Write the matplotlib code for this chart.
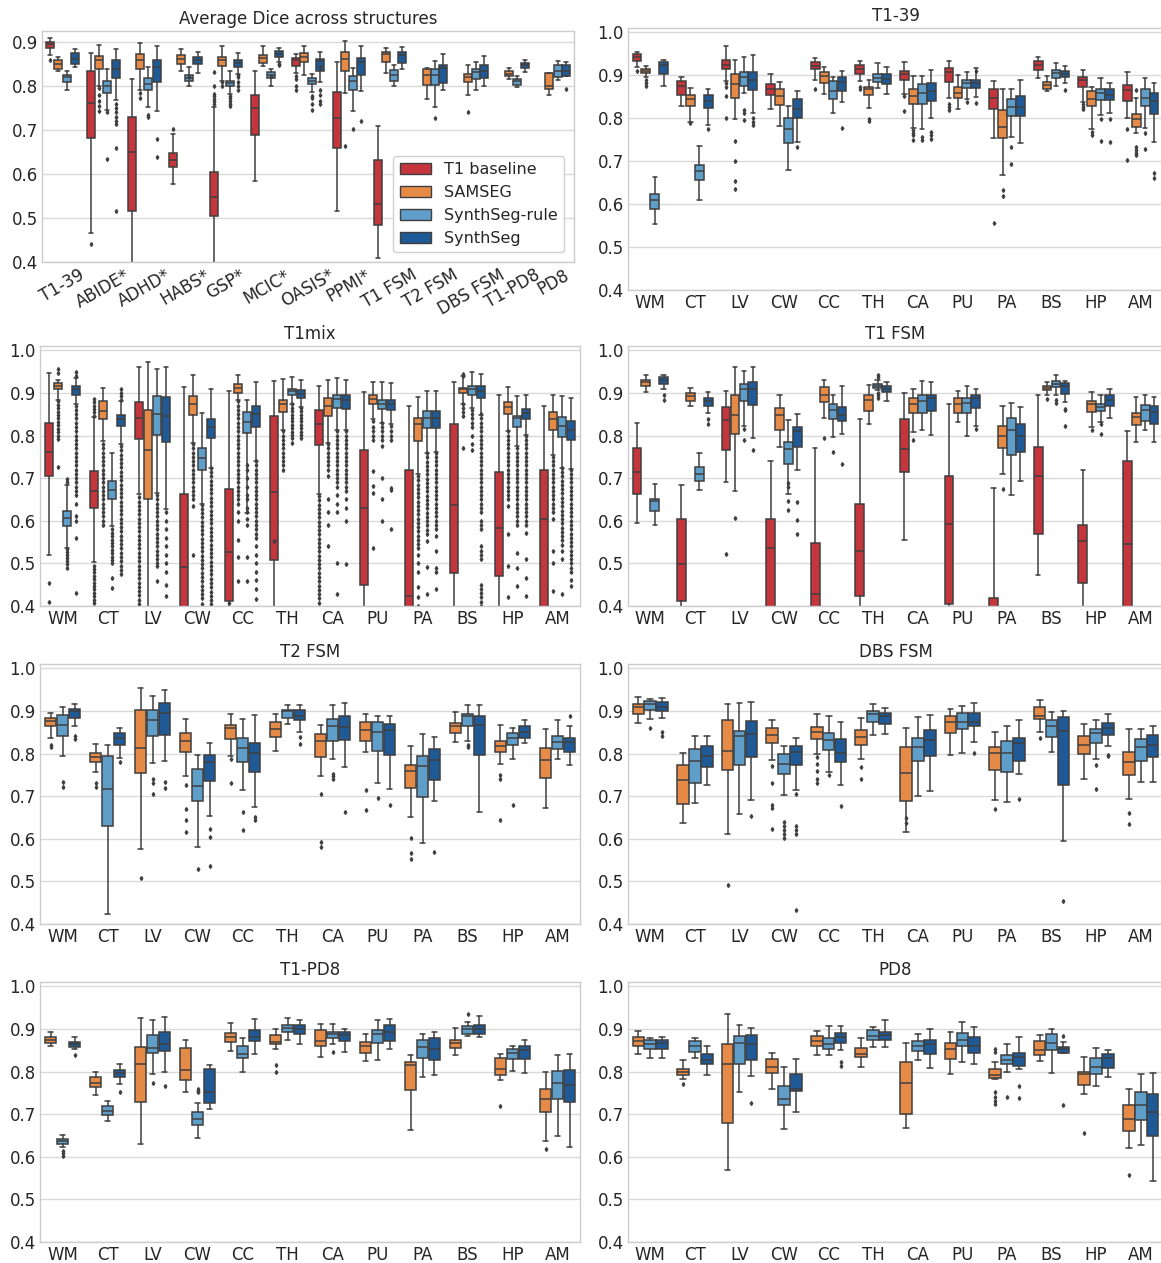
import matplotlib
matplotlib.use("Agg")
import matplotlib.pyplot as plt
from matplotlib.patches import Patch

plt.style.use('seaborn-v0_8-whitegrid')
plt.rcParams["font.family"] = ["DejaVu Sans"]

# ---------------------------------------------------------
# Categories, methods, colours
# ---------------------------------------------------------
datasets = ['T1-39', 'ABIDE*', 'ADHD*', 'HABS*', 'GSP*', 'MCIC*', 'OASIS*',
            'PPMI*', 'T1 FSM', 'T2 FSM', 'DBS FSM', 'T1-PD8', 'PD8']
structs = ['WM', 'CT', 'LV', 'CW', 'CC', 'TH', 'CA', 'PU', 'PA', 'BS', 'HP', 'AM']
methods = ['T1 baseline', 'SAMSEG', 'SynthSeg-rule', 'SynthSeg']
colors = ['#c4363c', '#e68a48', '#5e9ec9', '#1f5996']
edge = '#3f3f3f'

# box stats per entry: (whisker_low, q1, median, q3, whisker_high)
# fliers keyed by (method index, category index)

# ---- Average Dice across structures ----
avg_t1base = [(0.870, 0.887, 0.895, 0.901, 0.908), (0.466, 0.681, 0.761, 0.833, 0.875),
              (0.300, 0.517, 0.649, 0.730, 0.816), (0.578, 0.616, 0.631, 0.647, 0.692),
              (0.300, 0.504, 0.548, 0.605, 0.752), (0.584, 0.688, 0.750, 0.780, 0.834),
              (0.829, 0.845, 0.858, 0.863, 0.873), (0.516, 0.660, 0.727, 0.786, 0.854),
              (0.408, 0.483, 0.531, 0.631, 0.710), None, None, None, None]
avg_samseg = [(0.834, 0.839, 0.850, 0.858, 0.866), (0.801, 0.839, 0.858, 0.868, 0.894),
              (0.791, 0.839, 0.860, 0.873, 0.898), (0.833, 0.851, 0.862, 0.871, 0.883),
              (0.812, 0.845, 0.860, 0.866, 0.891), (0.845, 0.852, 0.863, 0.871, 0.891),
              (0.824, 0.854, 0.867, 0.876, 0.891), (0.784, 0.835, 0.862, 0.877, 0.902),
              (0.829, 0.854, 0.873, 0.877, 0.886), (0.771, 0.803, 0.824, 0.839, 0.841),
              (0.780, 0.809, 0.820, 0.828, 0.848), (0.815, 0.822, 0.828, 0.833, 0.841),
              (0.780, 0.793, 0.801, 0.829, 0.829)]
avg_rule = [(0.791, 0.810, 0.820, 0.826, 0.835), (0.745, 0.784, 0.799, 0.812, 0.839),
            (0.753, 0.791, 0.805, 0.819, 0.844), (0.799, 0.812, 0.819, 0.824, 0.843),
            (0.782, 0.799, 0.806, 0.812, 0.833), (0.801, 0.818, 0.825, 0.832, 0.839),
            (0.786, 0.805, 0.812, 0.819, 0.828), (0.744, 0.791, 0.812, 0.822, 0.841),
            (0.800, 0.812, 0.826, 0.837, 0.847), (0.753, 0.803, 0.824, 0.839, 0.857),
            (0.790, 0.816, 0.832, 0.839, 0.854), (0.797, 0.803, 0.811, 0.816, 0.823),
            (0.814, 0.820, 0.833, 0.847, 0.856)]
avg_synth = [(0.843, 0.851, 0.862, 0.876, 0.885), (0.768, 0.819, 0.839, 0.858, 0.883),
             (0.744, 0.809, 0.843, 0.860, 0.892), (0.830, 0.849, 0.858, 0.866, 0.877),
             (0.828, 0.844, 0.853, 0.860, 0.876), (0.854, 0.866, 0.873, 0.879, 0.886),
             (0.809, 0.835, 0.856, 0.862, 0.877), (0.788, 0.824, 0.854, 0.863, 0.891),
             (0.839, 0.853, 0.870, 0.877, 0.889), (0.791, 0.806, 0.841, 0.848, 0.873),
             (0.801, 0.819, 0.833, 0.848, 0.868), (0.832, 0.841, 0.848, 0.853, 0.858),
             (0.822, 0.822, 0.835, 0.847, 0.854)]
avg_fliers = {
    (0, 0): [0.858], (0, 1): [0.442], (1, 1): [0.795, 0.78, 0.767, 0.755, 0.744],
    (2, 1): [0.74, 0.634], (3, 1): [0.759, 0.75, 0.74, 0.73, 0.72, 0.714, 0.66, 0.517],
    (1, 2): [0.784, 0.772], (2, 2): [0.733, 0.729], (3, 2): [0.679, 0.639],
    (0, 3): [0.702], (2, 3): [0.82],
    (0, 4): [0.832, 0.80, 0.782, 0.778, 0.77, 0.765, 0.76], (1, 4): [0.808, 0.80],
    (2, 4): [0.778, 0.772, 0.765, 0.76, 0.755], (3, 4): [0.826, 0.82, 0.81, 0.80, 0.79],
    (2, 5): [0.823], (3, 5): [0.85, 0.847],
    (0, 6): [0.822, 0.815, 0.80, 0.791], (2, 6): [0.778, 0.772, 0.76, 0.745],
    (3, 6): [0.843, 0.79, 0.78, 0.765, 0.76],
    (1, 7): [0.664], (2, 7): [0.702], (3, 7): [0.72],
    (2, 9): [0.727], (1, 10): [0.742], (3, 12): [0.793],
}

# ---- T1-39 ----
t139_t1base = [(0.920, 0.933, 0.942, 0.949, 0.953), (0.828, 0.854, 0.875, 0.886, 0.896),
               (0.886, 0.914, 0.925, 0.935, 0.967), (0.821, 0.854, 0.867, 0.879, 0.904),
               (0.890, 0.914, 0.921, 0.930, 0.939), (0.886, 0.904, 0.914, 0.924, 0.933),
               (0.856, 0.889, 0.903, 0.911, 0.932), (0.848, 0.885, 0.908, 0.916, 0.933),
               (0.753, 0.821, 0.846, 0.867, 0.886), (0.894, 0.912, 0.925, 0.933, 0.942),
               (0.838, 0.872, 0.889, 0.896, 0.912), (0.800, 0.840, 0.865, 0.877, 0.908)]
t139_samseg = [(0.895, 0.906, 0.910, 0.914, 0.921), (0.791, 0.829, 0.844, 0.855, 0.871),
               (0.797, 0.847, 0.879, 0.903, 0.935), (0.781, 0.830, 0.851, 0.869, 0.885),
               (0.856, 0.882, 0.898, 0.907, 0.920), (0.824, 0.854, 0.867, 0.873, 0.889),
               (0.777, 0.832, 0.851, 0.869, 0.899), (0.821, 0.846, 0.858, 0.872, 0.900),
               (0.667, 0.753, 0.780, 0.820, 0.869), (0.864, 0.869, 0.877, 0.885, 0.898),
               (0.776, 0.828, 0.844, 0.863, 0.872), (0.766, 0.780, 0.797, 0.809, 0.846)]
t139_rule = [(0.553, 0.588, 0.609, 0.624, 0.663), (0.610, 0.655, 0.677, 0.692, 0.735),
             (0.859, 0.875, 0.897, 0.907, 0.942), (0.679, 0.743, 0.774, 0.801, 0.828),
             (0.811, 0.844, 0.863, 0.886, 0.895), (0.871, 0.885, 0.893, 0.903, 0.928),
             (0.774, 0.833, 0.858, 0.879, 0.899), (0.844, 0.871, 0.881, 0.889, 0.908),
             (0.756, 0.805, 0.826, 0.844, 0.869), (0.875, 0.893, 0.906, 0.912, 0.928),
             (0.807, 0.842, 0.859, 0.869, 0.893), (0.777, 0.828, 0.846, 0.867, 0.894)]
t139_synth = [(0.875, 0.904, 0.924, 0.932, 0.935), (0.784, 0.824, 0.840, 0.855, 0.869),
              (0.812, 0.865, 0.890, 0.908, 0.946), (0.745, 0.800, 0.821, 0.844, 0.864),
              (0.838, 0.864, 0.885, 0.895, 0.911), (0.856, 0.879, 0.891, 0.904, 0.920),
              (0.801, 0.840, 0.863, 0.882, 0.912), (0.850, 0.871, 0.881, 0.889, 0.916),
              (0.742, 0.805, 0.826, 0.852, 0.889), (0.881, 0.895, 0.904, 0.910, 0.922),
              (0.812, 0.842, 0.854, 0.869, 0.881), (0.745, 0.809, 0.840, 0.859, 0.882)]
t139_fliers = {
    (0, 0): [0.911], (1, 0): [0.889, 0.882, 0.875], (1, 1): [0.789], (3, 1): [0.776],
    (0, 2): [0.881, 0.873, 0.851, 0.801], (1, 2): [0.747, 0.70, 0.653, 0.636],
    (2, 2): [0.819, 0.812, 0.795], (3, 2): [0.80, 0.79, 0.784], (3, 3): [0.733],
    (0, 4): [0.867], (3, 4): [0.778], (0, 5): [0.872, 0.867], (1, 5): [0.797, 0.793],
    (0, 6): [0.852, 0.817], (1, 6): [0.772, 0.766, 0.76, 0.749], (2, 6): [0.756, 0.749],
    (3, 6): [0.768, 0.76, 0.752], (0, 7): [0.832, 0.825, 0.819], (2, 7): [0.838],
    (3, 7): [0.91, 0.836], (0, 8): [0.556], (1, 8): [0.633, 0.62], (2, 8): [0.733, 0.694],
    (3, 9): [0.865], (0, 10): [0.833, 0.826, 0.822], (1, 10): [0.768, 0.762],
    (2, 10): [0.797, 0.746], (3, 10): [0.797, 0.745], (0, 11): [0.776, 0.703],
    (1, 11): [0.865, 0.733, 0.725, 0.72, 0.714], (2, 11): [0.766, 0.729],
    (3, 11): [0.672, 0.661],
}

# ---- T1mix ----
t1mix_t1base = [(0.519, 0.705, 0.761, 0.830, 0.947), (0.503, 0.630, 0.670, 0.716, 0.843),
                (0.662, 0.792, 0.841, 0.879, 0.960), (0.300, 0.370, 0.491, 0.662, 0.913),
                (0.300, 0.412, 0.527, 0.675, 0.904), (0.300, 0.507, 0.668, 0.845, 0.929),
                (0.662, 0.777, 0.827, 0.859, 0.917), (0.300, 0.449, 0.630, 0.766, 0.902),
                (0.300, 0.380, 0.423, 0.719, 0.869), (0.300, 0.477, 0.638, 0.826, 0.925),
                (0.300, 0.470, 0.584, 0.714, 0.896), (0.300, 0.370, 0.605, 0.720, 0.869)]
t1mix_samseg = [(0.884, 0.908, 0.916, 0.923, 0.931), (0.787, 0.838, 0.857, 0.882, 0.912),
                (0.300, 0.652, 0.767, 0.859, 0.972), (0.783, 0.849, 0.873, 0.892, 0.941),
                (0.884, 0.900, 0.912, 0.921, 0.943), (0.814, 0.855, 0.873, 0.884, 0.933),
                (0.783, 0.845, 0.870, 0.887, 0.931), (0.838, 0.873, 0.886, 0.896, 0.926),
                (0.709, 0.787, 0.826, 0.841, 0.890), (0.873, 0.900, 0.908, 0.912, 0.939),
                (0.810, 0.851, 0.866, 0.879, 0.913), (0.755, 0.814, 0.839, 0.855, 0.894)]
t1mix_rule = [(0.537, 0.587, 0.607, 0.623, 0.685), (0.587, 0.650, 0.673, 0.693, 0.759),
              (0.666, 0.801, 0.851, 0.892, 0.957), (0.640, 0.720, 0.748, 0.771, 0.853),
              (0.619, 0.806, 0.831, 0.855, 0.884), (0.873, 0.896, 0.904, 0.908, 0.938),
              (0.814, 0.865, 0.886, 0.896, 0.934), (0.830, 0.863, 0.873, 0.884, 0.925),
              (0.759, 0.818, 0.841, 0.857, 0.904), (0.865, 0.894, 0.908, 0.917, 0.949),
              (0.775, 0.820, 0.840, 0.845, 0.892), (0.724, 0.796, 0.823, 0.843, 0.892)]
t1mix_synth = [(0.873, 0.896, 0.908, 0.916, 0.935), (0.781, 0.822, 0.839, 0.849, 0.880),
               (0.627, 0.785, 0.845, 0.891, 0.961), (0.724, 0.793, 0.820, 0.838, 0.908),
               (0.741, 0.820, 0.851, 0.870, 0.925), (0.867, 0.888, 0.898, 0.906, 0.931),
               (0.814, 0.862, 0.884, 0.894, 0.930), (0.826, 0.861, 0.873, 0.884, 0.923),
               (0.761, 0.818, 0.841, 0.857, 0.904), (0.849, 0.887, 0.904, 0.916, 0.945),
               (0.802, 0.838, 0.852, 0.863, 0.896), (0.722, 0.789, 0.812, 0.834, 0.888)]
t1mix_fliers = {
    (0, 0): [0.453, 0.409],
    (1, 0): [0.955, 0.946, 0.88, 0.872, 0.864, 0.856, 0.848, 0.84, 0.832, 0.824, 0.816,
             0.808, 0.80, 0.792, 0.726],
    (2, 0): [0.697, 0.69, 0.533, 0.526, 0.519, 0.512, 0.505, 0.498, 0.49],
    (3, 0): [0.948, 0.94, 0.87, 0.86, 0.85, 0.84, 0.83, 0.82, 0.81, 0.80, 0.79, 0.78, 0.77,
             0.76, 0.75, 0.74, 0.73, 0.72, 0.71, 0.70, 0.69, 0.68, 0.67, 0.66, 0.64, 0.61,
             0.60, 0.56, 0.431],
    (0, 1): [0.885, 0.878, 0.87, 0.862, 0.854, 0.846, 0.495, 0.487, 0.479, 0.471, 0.463,
             0.455, 0.447, 0.439, 0.431, 0.423, 0.415, 0.407],
    (1, 1): [0.78, 0.77, 0.76, 0.75, 0.74, 0.73, 0.72, 0.71, 0.70, 0.69, 0.68, 0.67, 0.66,
             0.65, 0.64, 0.63, 0.62, 0.61, 0.60, 0.59],
    (2, 1): [0.58, 0.572, 0.564, 0.556, 0.548, 0.54, 0.532, 0.524, 0.516, 0.508, 0.50,
             0.466, 0.443],
    (3, 1): [0.908, 0.90, 0.892, 0.884, 0.775, 0.765, 0.755, 0.745, 0.735, 0.725, 0.715,
             0.705, 0.695, 0.685, 0.675, 0.665, 0.655, 0.645, 0.635, 0.625, 0.615, 0.605,
             0.595, 0.585, 0.575, 0.565, 0.555, 0.545, 0.535, 0.525, 0.515, 0.505, 0.495,
             0.485, 0.474],
    (0, 2): [0.655, 0.645, 0.635, 0.625, 0.615, 0.605, 0.595, 0.585, 0.575, 0.565, 0.555,
             0.545, 0.535, 0.525, 0.515, 0.505, 0.495, 0.485, 0.475, 0.465, 0.455, 0.445,
             0.435, 0.425, 0.415, 0.405],
    (2, 2): [0.66, 0.65, 0.64, 0.63, 0.62, 0.61, 0.60, 0.59, 0.58, 0.57, 0.56, 0.55, 0.54,
             0.53, 0.52, 0.51, 0.50, 0.494, 0.459],
    (3, 2): [0.62, 0.60, 0.58, 0.56, 0.54, 0.52, 0.50, 0.48, 0.45, 0.423],
    (1, 3): [0.78, 0.77, 0.76, 0.75, 0.74, 0.73, 0.72, 0.71, 0.70, 0.69, 0.68, 0.67, 0.66,
             0.65, 0.634, 0.519],
    (2, 3): [0.638, 0.628, 0.618, 0.608, 0.598, 0.588, 0.578, 0.568, 0.558, 0.548, 0.538,
             0.528, 0.518, 0.508, 0.498, 0.488, 0.478, 0.468, 0.458, 0.448, 0.438, 0.428,
             0.418, 0.405],
    (3, 3): [0.724, 0.714, 0.704, 0.694, 0.684, 0.674, 0.664, 0.654, 0.644, 0.634, 0.624,
             0.614, 0.604, 0.594, 0.584, 0.574, 0.564, 0.554, 0.544, 0.534, 0.524, 0.514,
             0.504, 0.494, 0.484, 0.474, 0.464, 0.454, 0.444, 0.434, 0.424, 0.414, 0.404],
    (0, 4): [0.408],
    (1, 4): [0.88, 0.87, 0.86, 0.85, 0.84, 0.83, 0.82, 0.81, 0.80, 0.79, 0.78, 0.77, 0.76,
             0.75, 0.74, 0.73, 0.72, 0.71, 0.70, 0.69, 0.68, 0.67, 0.66, 0.65, 0.64, 0.62,
             0.60, 0.556, 0.516, 0.459],
    (2, 4): [0.73, 0.72, 0.70, 0.68, 0.66, 0.65, 0.63, 0.62, 0.603, 0.59, 0.516, 0.459],
    (3, 4): [0.74, 0.73, 0.72, 0.71, 0.70, 0.69, 0.68, 0.67, 0.66, 0.65, 0.64, 0.63, 0.62,
             0.61, 0.60, 0.59, 0.58, 0.57, 0.56, 0.54, 0.52, 0.50, 0.48, 0.46, 0.44, 0.416],
    (0, 5): [0.552],
    (1, 5): [0.81, 0.80, 0.79, 0.78, 0.77, 0.76, 0.75, 0.74, 0.73, 0.72],
    (2, 5): [0.873, 0.865, 0.857, 0.849, 0.841, 0.833, 0.825, 0.817, 0.809, 0.801, 0.793,
             0.783],
    (3, 5): [0.865, 0.857, 0.849, 0.841, 0.833, 0.825, 0.817, 0.809, 0.801, 0.795],
    (0, 6): [0.658, 0.648, 0.638, 0.628, 0.618, 0.608, 0.598, 0.588, 0.578, 0.568, 0.558,
             0.548, 0.538, 0.528, 0.518, 0.508, 0.498, 0.488, 0.478, 0.468, 0.458, 0.448,
             0.438, 0.428, 0.418, 0.408],
    (1, 6): [0.78, 0.77, 0.76, 0.75, 0.74, 0.73, 0.72, 0.705, 0.65, 0.62, 0.59, 0.54],
    (2, 6): [0.81, 0.80, 0.79, 0.78, 0.77, 0.76, 0.75, 0.74, 0.73, 0.72, 0.71, 0.70, 0.69,
             0.68, 0.66, 0.64, 0.62, 0.50, 0.427],
    (3, 6): [0.81, 0.80, 0.79, 0.78, 0.77, 0.76, 0.75, 0.74, 0.73, 0.72, 0.71, 0.70, 0.69,
             0.68, 0.67, 0.65, 0.63, 0.60, 0.498],
    (1, 7): [0.834, 0.82, 0.81, 0.80, 0.79, 0.716, 0.681, 0.666, 0.537],
    (2, 7): [0.83, 0.82, 0.81, 0.80, 0.79, 0.775, 0.70, 0.65, 0.60],
    (3, 7): [0.823, 0.81, 0.80, 0.79, 0.677, 0.673, 0.58],
    (1, 8): [0.705, 0.695, 0.685, 0.675, 0.665, 0.655, 0.645, 0.635, 0.625, 0.615, 0.605,
             0.595, 0.585, 0.575, 0.565, 0.555, 0.545, 0.535, 0.52, 0.50, 0.48, 0.445,
             0.42, 0.40],
    (2, 8): [0.759, 0.749, 0.739, 0.729, 0.719, 0.709, 0.699, 0.689, 0.679, 0.669, 0.659,
             0.649, 0.639, 0.629, 0.619, 0.609, 0.599, 0.589, 0.579, 0.569, 0.552, 0.492,
             0.427],
    (3, 8): [0.76, 0.75, 0.74, 0.73, 0.72, 0.71, 0.70, 0.69, 0.68, 0.67, 0.66, 0.65, 0.64,
             0.63, 0.62, 0.61, 0.60, 0.59, 0.58, 0.564, 0.53, 0.49, 0.48, 0.44],
    (1, 9): [0.945, 0.94, 0.873, 0.865, 0.855, 0.845, 0.771],
    (2, 9): [0.86, 0.85, 0.84, 0.83, 0.82, 0.80, 0.78, 0.767],
    (3, 9): [0.85, 0.84, 0.83, 0.82, 0.81, 0.80, 0.79, 0.78, 0.77, 0.76, 0.75, 0.74, 0.73,
             0.72, 0.71, 0.70, 0.69, 0.68, 0.67, 0.66, 0.65, 0.64, 0.63, 0.62, 0.60, 0.59,
             0.58, 0.54, 0.53, 0.52, 0.51, 0.45, 0.44, 0.43, 0.42, 0.41, 0.40],
    (1, 10): [0.81, 0.80, 0.79, 0.78, 0.77, 0.76, 0.75, 0.74, 0.73, 0.72, 0.71, 0.70, 0.69,
              0.68, 0.67, 0.66, 0.65, 0.634, 0.568, 0.494, 0.422],
    (2, 10): [0.77, 0.76, 0.75, 0.74, 0.73, 0.72, 0.71, 0.70, 0.69, 0.68, 0.67, 0.66, 0.65,
              0.64, 0.63, 0.62, 0.61, 0.60, 0.59, 0.525, 0.49, 0.447],
    (3, 10): [0.80, 0.79, 0.78, 0.77, 0.76, 0.75, 0.74, 0.73, 0.72, 0.71, 0.70, 0.69, 0.68,
              0.67, 0.66, 0.65, 0.64, 0.63, 0.62, 0.61, 0.60, 0.59, 0.572, 0.51, 0.466,
              0.423],
    (1, 11): [0.75, 0.74, 0.73, 0.72, 0.71, 0.70, 0.69, 0.68, 0.67, 0.66, 0.65, 0.64, 0.63,
              0.62, 0.603, 0.53, 0.50, 0.436],
    (2, 11): [0.724, 0.714, 0.704, 0.694, 0.684, 0.674, 0.664, 0.654, 0.644, 0.634, 0.624,
              0.614, 0.604, 0.594, 0.584, 0.574, 0.564, 0.554, 0.544, 0.53, 0.51, 0.427],
    (3, 11): [0.72, 0.71, 0.70, 0.69, 0.68, 0.67, 0.66, 0.65, 0.64, 0.63, 0.62, 0.61, 0.60,
              0.59, 0.58, 0.57, 0.56, 0.55, 0.54, 0.53, 0.52, 0.51, 0.50, 0.49, 0.48, 0.46,
              0.447],
}

# ---- T1 FSM ----
t1fsm_t1base = [(0.594, 0.662, 0.714, 0.770, 0.830), (0.395, 0.412, 0.499, 0.603, 0.685),
                (0.691, 0.767, 0.837, 0.867, 0.905), (0.300, 0.380, 0.537, 0.603, 0.740),
                (0.300, 0.370, 0.427, 0.548, 0.771), (0.395, 0.423, 0.530, 0.640, 0.839),
                (0.554, 0.715, 0.769, 0.839, 0.900), (0.395, 0.404, 0.593, 0.705, 0.875),
                (0.300, 0.330, 0.360, 0.418, 0.676), (0.473, 0.568, 0.705, 0.773, 0.895),
                (0.300, 0.453, 0.552, 0.590, 0.718), (0.300, 0.370, 0.545, 0.740, 0.810)]
t1fsm_samseg = [(0.902, 0.917, 0.926, 0.931, 0.941), (0.869, 0.882, 0.892, 0.900, 0.912),
                (0.670, 0.804, 0.849, 0.894, 0.960), (0.773, 0.812, 0.849, 0.865, 0.894),
                (0.841, 0.878, 0.896, 0.913, 0.931), (0.828, 0.857, 0.884, 0.896, 0.918),
                (0.809, 0.853, 0.875, 0.888, 0.908), (0.832, 0.853, 0.875, 0.887, 0.904),
                (0.709, 0.771, 0.800, 0.823, 0.870), (0.896, 0.906, 0.912, 0.917, 0.925),
                (0.820, 0.855, 0.874, 0.882, 0.902), (0.784, 0.824, 0.844, 0.853, 0.891)]
t1fsm_rule = [(0.589, 0.624, 0.646, 0.652, 0.687), (0.671, 0.693, 0.709, 0.727, 0.758),
              (0.823, 0.880, 0.908, 0.922, 0.951), (0.663, 0.734, 0.769, 0.785, 0.837),
              (0.796, 0.839, 0.861, 0.873, 0.894), (0.906, 0.912, 0.917, 0.921, 0.931),
              (0.812, 0.852, 0.880, 0.894, 0.927), (0.798, 0.852, 0.877, 0.887, 0.916),
              (0.660, 0.755, 0.814, 0.840, 0.877), (0.896, 0.913, 0.922, 0.927, 0.943),
              (0.832, 0.857, 0.867, 0.875, 0.894), (0.812, 0.835, 0.859, 0.871, 0.894)]
t1fsm_synth = [(0.908, 0.921, 0.931, 0.938, 0.941), (0.853, 0.870, 0.880, 0.888, 0.902),
               (0.795, 0.871, 0.908, 0.925, 0.960), (0.720, 0.773, 0.810, 0.820, 0.851),
               (0.804, 0.834, 0.849, 0.867, 0.916), (0.882, 0.902, 0.909, 0.917, 0.925),
               (0.802, 0.857, 0.887, 0.896, 0.925), (0.823, 0.865, 0.887, 0.895, 0.910),
               (0.693, 0.761, 0.800, 0.827, 0.867), (0.878, 0.898, 0.917, 0.923, 0.927),
               (0.841, 0.870, 0.884, 0.894, 0.908), (0.784, 0.827, 0.855, 0.870, 0.891)]
t1fsm_fliers = {
    (3, 0): [0.894, 0.884], (3, 1): [0.839, 0.827], (0, 2): [0.523], (1, 2): [0.607],
    (2, 2): [0.816, 0.789], (3, 2): [0.767], (2, 3): [0.689, 0.68, 0.646, 0.625],
    (3, 3): [0.644, 0.601, 0.57], (1, 4): [0.795], (2, 4): [0.762], (3, 4): [0.734],
    (2, 5): [0.941, 0.937, 0.90, 0.894, 0.888], (1, 6): [0.789], (3, 7): [0.816],
    (1, 8): [0.675], (1, 9): [0.886], (2, 9): [0.884, 0.877], (3, 9): [0.862, 0.859, 0.822],
    (1, 10): [0.812], (2, 10): [0.828, 0.804],
}

# ---- T2 FSM ----
t2fsm_samseg = [(0.837, 0.864, 0.876, 0.884, 0.896), (0.757, 0.779, 0.792, 0.802, 0.822),
                (0.575, 0.755, 0.813, 0.901, 0.954), (0.747, 0.804, 0.829, 0.848, 0.882),
                (0.793, 0.835, 0.860, 0.867, 0.893), (0.805, 0.839, 0.858, 0.874, 0.893),
                (0.747, 0.792, 0.829, 0.845, 0.868), (0.804, 0.829, 0.856, 0.875, 0.893),
                (0.650, 0.718, 0.758, 0.774, 0.818), (0.827, 0.848, 0.864, 0.872, 0.897),
                (0.776, 0.804, 0.818, 0.829, 0.866), (0.671, 0.743, 0.784, 0.813, 0.858)]
t2fsm_rule = [(0.793, 0.840, 0.868, 0.891, 0.910), (0.424, 0.631, 0.716, 0.793, 0.819),
              (0.778, 0.840, 0.878, 0.903, 0.935), (0.580, 0.689, 0.724, 0.763, 0.796),
              (0.714, 0.780, 0.813, 0.837, 0.880), (0.870, 0.884, 0.899, 0.903, 0.914),
              (0.786, 0.829, 0.864, 0.882, 0.913), (0.731, 0.806, 0.850, 0.875, 0.887),
              (0.589, 0.698, 0.771, 0.793, 0.845), (0.829, 0.864, 0.888, 0.893, 0.913),
              (0.788, 0.821, 0.836, 0.848, 0.860), (0.786, 0.810, 0.827, 0.840, 0.878)]
t2fsm_synth = [(0.864, 0.884, 0.899, 0.905, 0.917), (0.790, 0.821, 0.836, 0.848, 0.860),
               (0.782, 0.843, 0.895, 0.918, 0.948), (0.654, 0.736, 0.779, 0.797, 0.825),
               (0.675, 0.757, 0.802, 0.825, 0.891), (0.850, 0.879, 0.889, 0.903, 0.913),
               (0.768, 0.832, 0.862, 0.888, 0.919), (0.716, 0.796, 0.856, 0.870, 0.889),
               (0.688, 0.739, 0.784, 0.811, 0.839), (0.663, 0.796, 0.866, 0.889, 0.913),
               (0.825, 0.836, 0.850, 0.864, 0.878), (0.772, 0.804, 0.827, 0.837, 0.864)]
t2fsm_fliers = {
    (1, 0): [0.821, 0.815], (2, 0): [0.733, 0.722], (3, 0): [0.84, 0.835],
    (1, 1): [0.73, 0.722], (3, 1): [0.779], (1, 2): [0.509], (2, 2): [0.741, 0.731, 0.705],
    (3, 2): [0.733, 0.718], (1, 3): [0.726, 0.669, 0.645, 0.617], (2, 3): [0.528],
    (3, 3): [0.622, 0.605, 0.535], (1, 4): [0.788, 0.73], (2, 4): [0.663, 0.62],
    (3, 4): [0.65, 0.644], (3, 5): [0.839, 0.822], (1, 6): [0.705, 0.592, 0.581],
    (2, 6): [0.753, 0.747, 0.741], (3, 6): [0.662], (1, 7): [0.714, 0.667], (2, 7): [0.696],
    (3, 7): [0.679], (1, 8): [0.601, 0.567, 0.552], (3, 8): [0.57], (2, 9): [0.819, 0.815],
    (1, 10): [0.749, 0.741, 0.645], (2, 10): [0.68], (3, 11): [0.888],
}

# ---- DBS FSM ----
dbs_samseg = [(0.872, 0.892, 0.910, 0.917, 0.932), (0.638, 0.681, 0.737, 0.774, 0.801),
              (0.610, 0.762, 0.807, 0.879, 0.917), (0.784, 0.825, 0.843, 0.860, 0.879),
              (0.800, 0.835, 0.850, 0.862, 0.893), (0.786, 0.819, 0.839, 0.856, 0.883),
              (0.617, 0.689, 0.754, 0.816, 0.860), (0.797, 0.848, 0.875, 0.888, 0.905),
              (0.692, 0.761, 0.801, 0.816, 0.850), (0.850, 0.880, 0.889, 0.909, 0.926),
              (0.741, 0.798, 0.819, 0.840, 0.870), (0.694, 0.749, 0.780, 0.804, 0.857)]
dbs_rule = [(0.882, 0.903, 0.915, 0.923, 0.928), (0.685, 0.731, 0.782, 0.810, 0.840),
            (0.657, 0.772, 0.840, 0.852, 0.918), (0.702, 0.751, 0.776, 0.800, 0.818),
            (0.757, 0.809, 0.831, 0.849, 0.889), (0.844, 0.874, 0.892, 0.899, 0.917),
            (0.701, 0.782, 0.815, 0.837, 0.885), (0.801, 0.857, 0.874, 0.895, 0.911),
            (0.687, 0.757, 0.801, 0.829, 0.864), (0.804, 0.839, 0.864, 0.878, 0.897),
            (0.786, 0.825, 0.848, 0.858, 0.879), (0.733, 0.783, 0.815, 0.833, 0.858)]
dbs_synth = [(0.884, 0.899, 0.910, 0.920, 0.931), (0.726, 0.769, 0.794, 0.817, 0.840),
             (0.692, 0.792, 0.846, 0.876, 0.920), (0.714, 0.774, 0.804, 0.818, 0.836),
             (0.726, 0.780, 0.801, 0.833, 0.874), (0.846, 0.870, 0.889, 0.896, 0.906),
             (0.712, 0.793, 0.831, 0.856, 0.891), (0.827, 0.864, 0.875, 0.895, 0.918),
             (0.751, 0.783, 0.825, 0.837, 0.878), (0.595, 0.727, 0.852, 0.885, 0.900),
             (0.817, 0.844, 0.860, 0.871, 0.893), (0.732, 0.792, 0.819, 0.843, 0.864)]
dbs_fliers = {
    (2, 0): [0.86], (3, 0): [0.85, 0.841], (1, 2): [0.492], (3, 2): [0.653],
    (1, 3): [0.77, 0.731, 0.679, 0.673, 0.622], (2, 3): [0.64, 0.63, 0.62, 0.61, 0.601],
    (3, 3): [0.706, 0.63, 0.62, 0.612, 0.434], (1, 4): [0.792, 0.775, 0.76, 0.74, 0.73],
    (2, 4): [0.749], (3, 4): [0.677], (1, 5): [0.769, 0.74], (1, 6): [0.649, 0.638],
    (3, 7): [0.801], (1, 8): [0.669], (3, 8): [0.693], (1, 9): [0.836], (3, 9): [0.455],
    (2, 10): [0.772, 0.716], (3, 10): [0.797, 0.794], (1, 11): [0.661, 0.634],
}

# ---- T1-PD8 ----
t1pd8_samseg = [(0.860, 0.866, 0.874, 0.881, 0.892), (0.744, 0.764, 0.772, 0.786, 0.800),
                (0.631, 0.729, 0.818, 0.858, 0.926), (0.751, 0.779, 0.803, 0.854, 0.874),
                (0.848, 0.870, 0.882, 0.891, 0.913), (0.852, 0.864, 0.870, 0.885, 0.900),
                (0.834, 0.861, 0.871, 0.897, 0.912), (0.825, 0.844, 0.861, 0.869, 0.889),
                (0.663, 0.756, 0.815, 0.822, 0.838), (0.839, 0.854, 0.866, 0.875, 0.903),
                (0.780, 0.792, 0.807, 0.832, 0.842), (0.636, 0.706, 0.735, 0.760, 0.799)]
t1pd8_rule = [(0.622, 0.630, 0.636, 0.641, 0.652), (0.684, 0.698, 0.708, 0.718, 0.730),
              (0.793, 0.844, 0.854, 0.885, 0.920), (0.643, 0.674, 0.688, 0.705, 0.727),
              (0.800, 0.831, 0.840, 0.861, 0.878), (0.875, 0.892, 0.903, 0.908, 0.926),
              (0.864, 0.878, 0.887, 0.892, 0.912), (0.826, 0.866, 0.889, 0.897, 0.922),
              (0.788, 0.831, 0.858, 0.874, 0.889), (0.883, 0.889, 0.900, 0.906, 0.916),
              (0.801, 0.830, 0.843, 0.852, 0.861), (0.649, 0.735, 0.774, 0.801, 0.839)]
t1pd8_synth = [(0.853, 0.858, 0.865, 0.869, 0.882), (0.770, 0.787, 0.797, 0.804, 0.817),
               (0.799, 0.848, 0.864, 0.893, 0.928), (0.712, 0.727, 0.752, 0.805, 0.815),
               (0.840, 0.871, 0.882, 0.897, 0.924), (0.865, 0.889, 0.900, 0.908, 0.922),
               (0.846, 0.871, 0.885, 0.892, 0.899), (0.853, 0.871, 0.892, 0.909, 0.924),
               (0.791, 0.827, 0.853, 0.878, 0.893), (0.882, 0.889, 0.900, 0.908, 0.931),
               (0.797, 0.830, 0.850, 0.861, 0.873), (0.624, 0.729, 0.768, 0.804, 0.842)]
t1pd8_fliers = {
    (2, 0): [0.614, 0.609, 0.601], (3, 0): [0.838], (3, 1): [0.753], (2, 2): [0.774],
    (3, 2): [0.765], (2, 3): [0.76, 0.755, 0.751], (1, 5): [0.815, 0.799], (2, 6): [0.846],
    (2, 9): [0.936], (1, 10): [0.719], (1, 11): [0.618],
}

# ---- PD8 ----
pd8_samseg = [(0.842, 0.860, 0.871, 0.881, 0.895), (0.783, 0.792, 0.799, 0.805, 0.826),
              (0.569, 0.680, 0.817, 0.865, 0.935), (0.760, 0.797, 0.811, 0.829, 0.844),
              (0.838, 0.860, 0.871, 0.883, 0.895), (0.811, 0.834, 0.840, 0.856, 0.879),
              (0.667, 0.700, 0.772, 0.823, 0.868), (0.793, 0.829, 0.853, 0.867, 0.892),
              (0.782, 0.784, 0.792, 0.807, 0.822), (0.825, 0.839, 0.850, 0.871, 0.885),
              (0.748, 0.768, 0.794, 0.798, 0.834), (0.620, 0.661, 0.688, 0.722, 0.758)]
pd8_rule = [(0.831, 0.852, 0.865, 0.873, 0.879), (0.832, 0.846, 0.861, 0.871, 0.879),
            (0.751, 0.817, 0.867, 0.883, 0.909), (0.666, 0.721, 0.735, 0.766, 0.811),
            (0.838, 0.853, 0.864, 0.879, 0.906), (0.858, 0.874, 0.883, 0.897, 0.904),
            (0.826, 0.848, 0.861, 0.871, 0.889), (0.823, 0.860, 0.875, 0.891, 0.917),
            (0.800, 0.817, 0.827, 0.839, 0.864), (0.796, 0.850, 0.866, 0.889, 0.899),
            (0.766, 0.793, 0.811, 0.832, 0.856), (0.628, 0.687, 0.721, 0.751, 0.793)]
pd8_synth = [(0.832, 0.852, 0.866, 0.875, 0.882), (0.791, 0.817, 0.827, 0.840, 0.861),
             (0.790, 0.826, 0.864, 0.885, 0.903), (0.705, 0.754, 0.760, 0.794, 0.830),
             (0.850, 0.866, 0.881, 0.890, 0.906), (0.858, 0.875, 0.885, 0.892, 0.920),
             (0.809, 0.842, 0.864, 0.874, 0.900), (0.818, 0.843, 0.860, 0.882, 0.905),
             (0.805, 0.814, 0.834, 0.843, 0.882), (0.844, 0.844, 0.852, 0.858, 0.869),
             (0.788, 0.809, 0.831, 0.842, 0.850), (0.544, 0.648, 0.704, 0.748, 0.797)]
pd8_fliers = {
    (1, 1): [0.77], (3, 2): [0.725], (3, 4): [0.822, 0.814],
    (1, 8): [0.852, 0.846, 0.751, 0.74, 0.73, 0.723], (2, 8): [0.741], (3, 8): [0.766, 0.737],
    (3, 9): [0.883, 0.721], (1, 10): [0.656], (1, 11): [0.557],
}


# ---------------------------------------------------------
# Plotting
# ---------------------------------------------------------
W, H = 1161, 1263
fig = plt.figure(figsize=(W / 100, H / 100), dpi=100)


def px_axes(l, t, r, b):
    return fig.add_axes([l / W, 1 - b / H, (r - l) / W, (b - t) / H])


def draw_panel(ax, cats, series, fliers, n_slots, title, ytop, yticks):
    slot = 0.8 / n_slots
    for k, (m, data) in enumerate(series):
        off = -0.4 + slot * (k + 0.5)
        stats, pos = [], []
        for i, d in enumerate(data):
            if d is None:
                continue
            lo, q1, med, q3, hi = d
            stats.append(dict(whislo=lo, q1=q1, med=med, q3=q3, whishi=hi,
                              fliers=fliers.get((m, i), [])))
            pos.append(i + off)
        ax.bxp(stats, positions=pos, widths=slot * 0.98, patch_artist=True,
               manage_ticks=False, showfliers=True,
               boxprops=dict(facecolor=colors[m], edgecolor=edge, linewidth=1.1),
               medianprops=dict(color=edge, linewidth=1.1),
               whiskerprops=dict(color=edge, linewidth=1.1),
               capprops=dict(color=edge, linewidth=1.1),
               flierprops=dict(marker='d', markersize=2.0, markerfacecolor=edge,
                               markeredgecolor=edge, linestyle='none'))
    ax.set_xlim(-0.5, len(cats) - 0.5)
    ax.set_ylim(0.4, ytop)
    ax.set_xticks(range(len(cats)))
    ax.set_xticklabels(cats)
    ax.set_yticks(yticks)
    ax.set_yticklabels(['%.1f' % v for v in yticks])
    ax.set_title(title, fontsize=12, color='#262626', pad=5)
    ax.tick_params(axis='both', labelsize=12, length=0, pad=3, colors='#262626')
    ax.xaxis.grid(False)
    ax.yaxis.grid(True, color='#d9d9d9', linewidth=1.0)
    ax.set_axisbelow(True)
    for sp in ax.spines.values():
        sp.set_color('#cccccc')
        sp.set_linewidth(1.0)


yt_full = [0.4, 0.5, 0.6, 0.7, 0.8, 0.9, 1.0]
yt_avg = [0.4, 0.5, 0.6, 0.7, 0.8, 0.9]

# Average Dice (13 datasets, 4 methods)
ax = px_axes(42, 31, 574, 262)
draw_panel(ax, datasets,
           [(0, avg_t1base), (1, avg_samseg), (2, avg_rule), (3, avg_synth)],
           avg_fliers, 4, 'Average Dice across structures', 0.925, yt_avg)
plt.setp(ax.get_xticklabels(), rotation=30, ha='center')
handles = [Patch(facecolor=c, edgecolor=edge, linewidth=1.0, label=m)
           for c, m in zip(colors, methods)]
leg = ax.legend(handles=handles, loc='lower right', fontsize=11.5, frameon=True,
                fancybox=True, borderaxespad=0.6)
leg.get_frame().set_edgecolor('#d0d0d0')
leg.get_frame().set_facecolor('white')
leg.get_frame().set_alpha(1.0)

# Per-structure panels
LEFT = (40, 580)
RIGHT = (628, 1163)
panels = [
    (RIGHT, (28, 290), 'T1-39',
     [(0, t139_t1base), (1, t139_samseg), (2, t139_rule), (3, t139_synth)], t139_fliers, 4),
    (LEFT, (346, 606), 'T1mix',
     [(0, t1mix_t1base), (1, t1mix_samseg), (2, t1mix_rule), (3, t1mix_synth)], t1mix_fliers, 4),
    (RIGHT, (346, 606), 'T1 FSM',
     [(0, t1fsm_t1base), (1, t1fsm_samseg), (2, t1fsm_rule), (3, t1fsm_synth)], t1fsm_fliers, 4),
    (LEFT, (664, 924), 'T2 FSM',
     [(1, t2fsm_samseg), (2, t2fsm_rule), (3, t2fsm_synth)], t2fsm_fliers, 3),
    (RIGHT, (664, 924), 'DBS FSM',
     [(1, dbs_samseg), (2, dbs_rule), (3, dbs_synth)], dbs_fliers, 3),
    (LEFT, (982, 1242), 'T1-PD8',
     [(1, t1pd8_samseg), (2, t1pd8_rule), (3, t1pd8_synth)], t1pd8_fliers, 3),
    (RIGHT, (982, 1242), 'PD8',
     [(1, pd8_samseg), (2, pd8_rule), (3, pd8_synth)], pd8_fliers, 3),
]
for (l, r), (t, b), title, series, fl, n in panels:
    ax = px_axes(l, t, r, b)
    draw_panel(ax, structs, series, fl, n, title, 1.01, yt_full)

fig.savefig('out.png', dpi=100)
